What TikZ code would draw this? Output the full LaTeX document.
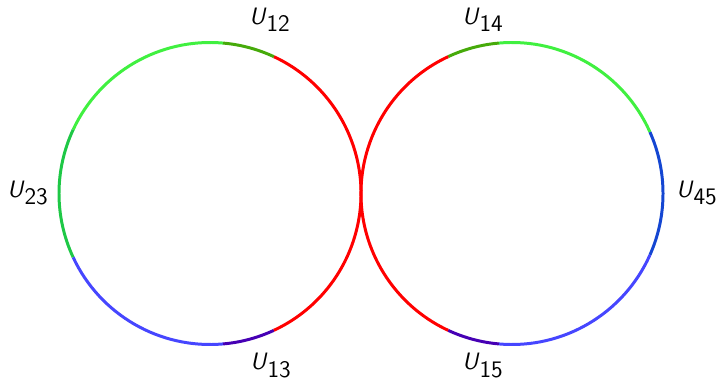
\documentclass[tikz,border=0pt]{standalone}
\usepackage{xcolor}
\usepackage{tikz}

\definecolor{lgreen}{RGB}{64,240,64}
\definecolor{mgreen}{RGB}{30,200,70}
\definecolor{olive}{RGB}{70,170,10}
\definecolor{lred}{RGB}{255,0,0}
\definecolor{lblue}{RGB}{70,70,255}
\definecolor{dblue}{RGB}{20,70,210}
\definecolor{purp}{RGB}{70,0,180}

\newcommand{\Ulab}[1]{$\textsf{\textit{U}}_{\textsf{#1}}$}

\begin{document}
\begin{tikzpicture}[
  seg/.style={line width=1.7pt},
  lab/.style={inner sep=0pt, font=\fontsize{13.5}{16}\selectfont}
]
\useasboundingbox (0,0) rectangle (14.36,7.62);
\def\R{3.02}
\coordinate (left) at (4.2,3.75);
\coordinate (right) at (10.24,3.75);

% left loop
\foreach \a/\b/\col in {85/155/lgreen, 155/205/mgreen, 205/275/lblue, 275/295/purp, -65/65/lred, 65/85/olive}
  \draw[seg, \col] ([shift={(\a:\R)}]left) arc[start angle=\a, end angle=\b, radius=\R];

% right loop
\foreach \a/\b/\col in {95/115/olive, 24/95/lgreen, -24/24/dblue, -95/-24/lblue, -115/-95/purp, 115/245/lred}
  \draw[seg, \col] ([shift={(\a:\R)}]right) arc[start angle=\a, end angle=\b, radius=\R];

\node[lab] (u12) at (5.40,7.22) {\Ulab{12}};
\node[lab] (u13) at (5.42,0.31) {\Ulab{13}};
\node[lab] (u23) at (0.56,3.76) {\Ulab{23}};
\node[lab] (u14) at (9.66,7.22) {\Ulab{14}};
\node[lab] (u15) at (9.66,0.31) {\Ulab{15}};
\node[lab] (u45) at (13.94,3.76) {\Ulab{45}};
\end{tikzpicture}
\end{document}
